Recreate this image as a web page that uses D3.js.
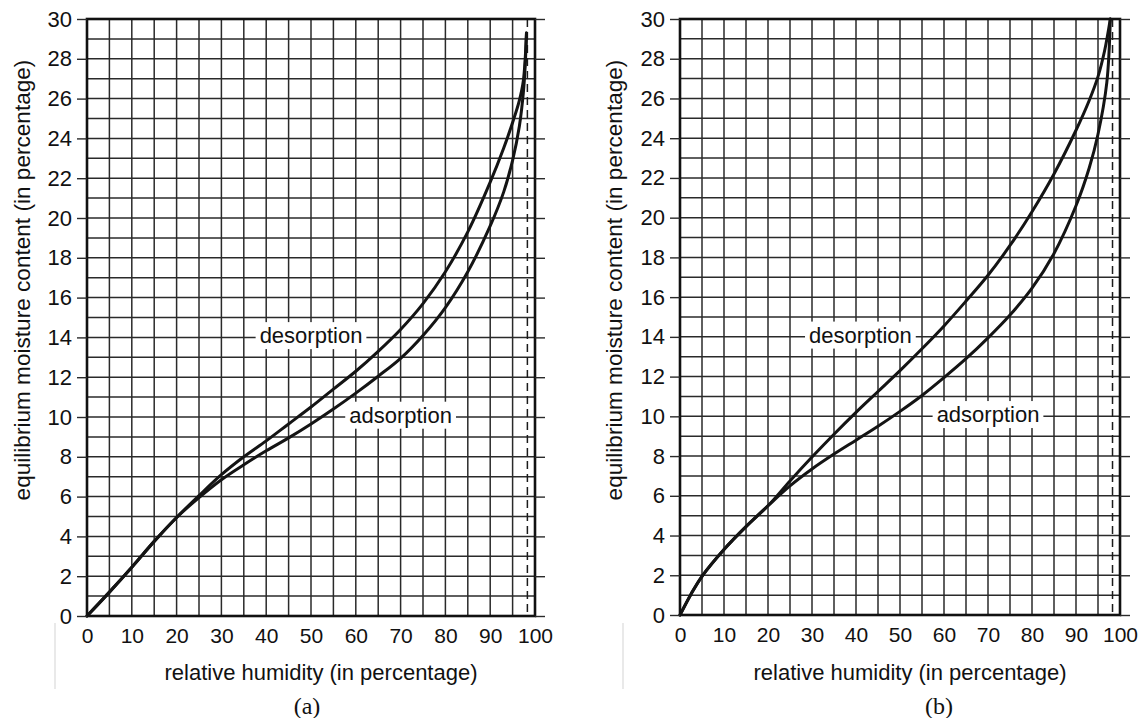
<!DOCTYPE html>
<html>
<head>
<meta charset="utf-8">
<script src="https://cdn.jsdelivr.net/npm/d3@7"></script>
<style>
  body { margin: 0; background: #fff; }
  svg { display: block; }
  text { font-family: "Liberation Sans", Arial, Helvetica, sans-serif; fill: #111; }
</style>
</head>
<body>
<svg id="chart" width="1144" height="718"></svg>
<script>
// Axis domains and ticks (relative humidity %, equilibrium moisture content %)
const rhDomain = [0, 100];
const emcDomain = [0, 30];
const rhTicks = [0, 10, 20, 30, 40, 50, 60, 70, 80, 90, 100];
const emcTicks = [0, 2, 4, 6, 8, 10, 12, 14, 16, 18, 20, 22, 24, 26, 28, 30];
const rhGrid = [5, 10, 15, 20, 25, 30, 35, 40, 45, 50, 55, 60, 65, 70, 75, 80, 85, 90, 95];
const emcGrid = d3.range(1, 30);
const saturationRh = 98.3;

// Sorption isotherms, [RH %, EMC %]
const desorptionA = [[0,0],[5,1.2],[10,2.45],[15,3.75],[20,4.95],[25,6.05],[30,7.1],[35,8.0],[40,8.8],[45,9.65],[50,10.5],[55,11.4],[60,12.3],[65,13.3],[70,14.4],[75,15.7],[80,17.3],[85,19.3],[90,21.8],[93,23.5],[95,24.8],[96.5,25.9],[97.4,26.9],[98.1,29.3]];
const adsorptionA = [[0,0],[5,1.2],[10,2.45],[15,3.75],[20,4.95],[25,5.95],[30,6.85],[35,7.6],[40,8.3],[45,8.95],[50,9.65],[55,10.4],[60,11.2],[65,12.05],[70,12.95],[75,14.1],[80,15.5],[85,17.3],[90,19.6],[93,21.3],[95,22.9],[96.5,24.6],[97.4,26.3],[97.8,27.6],[98.1,29.3]];
const desorptionB = [[0,0],[2.5,1.05],[5,1.95],[10,3.3],[15,4.45],[20,5.5],[25,6.75],[30,7.95],[35,9.1],[40,10.2],[45,11.25],[50,12.3],[55,13.4],[60,14.55],[65,15.8],[70,17.1],[75,18.6],[80,20.3],[85,22.2],[90,24.4],[93,25.9],[95,27.1],[96.5,28.4],[97.8,30]];
const adsorptionB = [[0,0],[2.5,1.05],[5,1.95],[10,3.3],[15,4.45],[20,5.5],[25,6.5],[30,7.35],[35,8.1],[40,8.8],[45,9.5],[50,10.25],[55,11.05],[60,11.95],[65,12.9],[70,13.95],[75,15.1],[80,16.45],[85,18.2],[90,20.6],[93,22.5],[95,24.2],[97,26.8],[97.8,30]];

// Curve label anchors, [RH %, EMC %]
const labelsA = [{text: "desorption", at: [50, 14]}, {text: "adsorption", at: [70, 10]}];
const labelsB = [{text: "desorption", at: [41, 14]}, {text: "adsorption", at: [70, 10]}];

const xTitle = "relative humidity (in percentage)";
const yTitle = "equilibrium moisture content (in percentage)";

const panels = [
  { caption: "(a)", series: [desorptionA, adsorptionA], labels: labelsA,
    left: 87, right: 535, top: 19, bottom: 616, captionX: 307, yTitleX: 30, margin: 55 },
  { caption: "(b)", series: [desorptionB, adsorptionB], labels: labelsB,
    left: 680, right: 1120, top: 19, bottom: 615, captionX: 939, yTitleX: 622, margin: 623 }
];

const svg = d3.select("#chart");
const ink = "#1b1b1b";

panels.forEach(p => {
  const x = d3.scaleLinear().domain(rhDomain).range([p.left, p.right]);
  const y = d3.scaleLinear().domain(emcDomain).range([p.bottom, p.top]);
  const g = svg.append("g");

  // faint margin rule beside the axis labels
  g.append("line")
    .attr("x1", p.margin).attr("x2", p.margin)
    .attr("y1", 623).attr("y2", 689)
    .attr("stroke", "#e2e2e2").attr("stroke-width", 1.5);

  // grid
  g.append("g").selectAll("line").data(emcGrid).join("line")
    .attr("x1", p.left).attr("x2", p.right)
    .attr("y1", d => y(d)).attr("y2", d => y(d))
    .attr("stroke", "#2a2a2a").attr("stroke-width", 1.5);
  g.append("g").selectAll("line").data(rhGrid).join("line")
    .attr("x1", d => x(d)).attr("x2", d => x(d))
    .attr("y1", p.top).attr("y2", p.bottom)
    .attr("stroke", "#2a2a2a").attr("stroke-width", 1.5);

  // saturation limit
  g.append("line")
    .attr("x1", x(saturationRh)).attr("x2", x(saturationRh))
    .attr("y1", p.top).attr("y2", p.bottom)
    .attr("stroke", ink).attr("stroke-width", 1.5)
    .attr("stroke-dasharray", "8,5");

  // curve labels on white boxes
  p.labels.forEach(l => {
    const lg = g.append("g");
    const t = lg.append("text")
      .attr("x", x(l.at[0])).attr("y", y(l.at[1]))
      .attr("dy", "0.26em")
      .attr("text-anchor", "middle")
      .attr("font-size", 22)
      .text(l.text);
    const b = t.node().getBBox();
    lg.insert("rect", "text")
      .attr("x", b.x - 4).attr("y", b.y - 1)
      .attr("width", b.width + 8).attr("height", b.height + 2)
      .attr("fill", "#fff");
  });

  // isotherms
  const line = d3.line().x(d => x(d[0])).y(d => y(d[1])).curve(d3.curveCatmullRom.alpha(0.5));
  g.append("g").selectAll("path").data(p.series).join("path")
    .attr("d", line)
    .attr("fill", "none")
    .attr("stroke", "#141414")
    .attr("stroke-width", 3)
    .attr("stroke-linejoin", "round")
    .attr("stroke-linecap", "round");

  // frame
  g.append("rect")
    .attr("x", p.left).attr("y", p.top)
    .attr("width", p.right - p.left).attr("height", p.bottom - p.top)
    .attr("fill", "none").attr("stroke", "#111").attr("stroke-width", 2.6);

  // axes
  const yAxis = g.append("g").attr("transform", `translate(${p.left},0)`)
    .call(d3.axisLeft(y).tickValues(emcTicks).tickSize(10).tickPadding(5));
  const yAxisR = g.append("g").attr("transform", `translate(${p.right},0)`)
    .call(d3.axisRight(y).tickValues(emcTicks).tickSize(10).tickFormat(() => ""));
  const xAxis = g.append("g").attr("transform", `translate(0,${p.bottom})`)
    .call(d3.axisBottom(x).tickValues(rhTicks).tickSize(0).tickPadding(12));

  [yAxis, yAxisR, xAxis].forEach(a => {
    a.select(".domain").remove();
    a.selectAll(".tick line").attr("stroke", "#2a2a2a").attr("stroke-width", 1.4);
    a.selectAll("text")
      .attr("fill", "#111")
      .style("font-family", "\"Liberation Sans\", Arial, Helvetica, sans-serif");
  });
  yAxis.selectAll("text").style("font-size", "22px");
  xAxis.selectAll("text").style("font-size", "21px");

  // axis titles
  g.append("text")
    .attr("x", (p.left + p.right) / 2 + 10).attr("y", 680)
    .attr("text-anchor", "middle").attr("font-size", 22)
    .text(xTitle);
  g.append("text")
    .attr("transform", `translate(${p.yTitleX},280) rotate(-90)`)
    .attr("text-anchor", "middle").attr("font-size", 22.6)
    .text(yTitle);

  // panel caption
  g.append("text")
    .attr("x", p.captionX).attr("y", 714)
    .attr("text-anchor", "middle")
    .style("font-family", "\"Liberation Serif\", \"Times New Roman\", serif")
    .attr("font-size", 24)
    .text(p.caption);
});
</script>
</body>
</html>
